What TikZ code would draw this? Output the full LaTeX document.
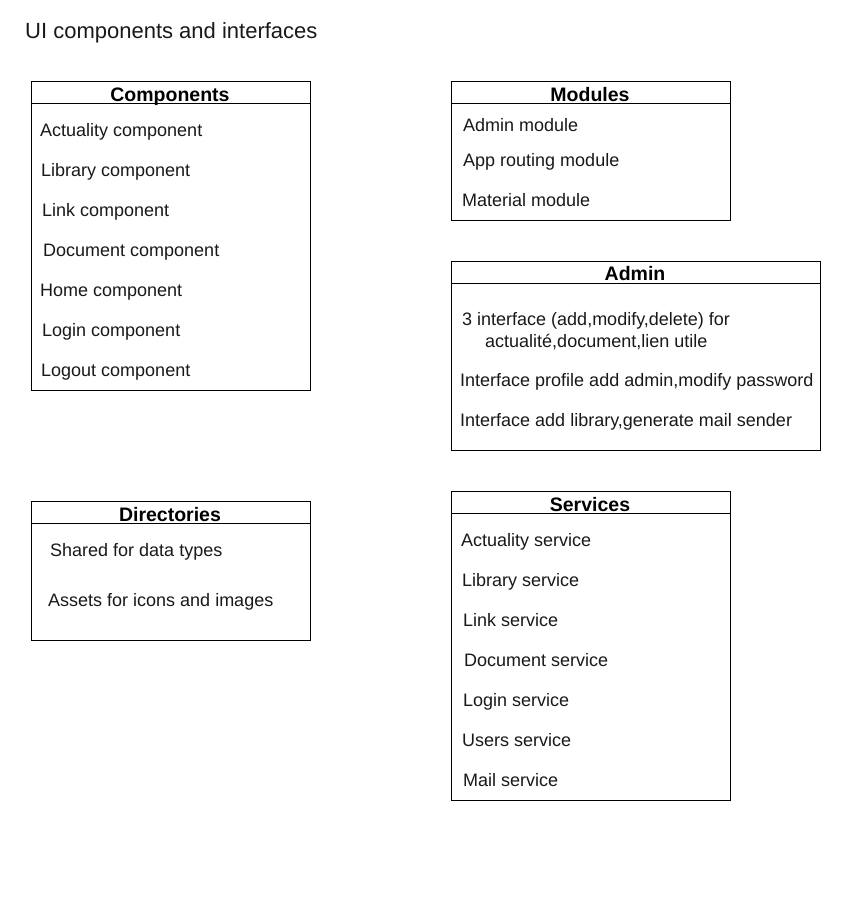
\documentclass[tikz,border=0pt]{standalone}
\usepackage{fontspec}
\setmainfont{Liberation Sans}
\begin{document}
\begin{tikzpicture}[x=1pt,y=-1pt,
  box/.style={draw=black,line width=1pt,fill=white,inner sep=0pt,minimum width=#1,anchor=north west},
  hdr/.style={font=\fontsize{19.5}{22}\selectfont\bfseries,text=black,inner sep=0pt,anchor=base},
  item/.style={font=\fontsize{18}{21}\selectfont,text=black!90,inner sep=0pt,anchor=base west},
  ttl/.style={font=\fontsize{22}{26}\selectfont,text=black!90,inner sep=0pt,anchor=base west}]
\useasboundingbox[fill=white] (0,0) rectangle (852,921);
\node[ttl] (title) at (25,38) {UI components and interfaces};

% Components
\node[box=279pt,minimum height=309pt] (comp) at (31,81) {};
\draw[line width=1pt] ([yshift=-22pt]comp.north west) -- ([yshift=-22pt]comp.north east);
\node[hdr] (comph) at (170,101) {Components};
\node[item] (c-a) at (40,136.5) {Actuality component};
\node[item] (c-b) at (41,176.5) {Library component};
\node[item] (c-c) at (42,216.5) {Link component};
\node[item] (c-d) at (43,256.5) {Document component};
\node[item] (c-e) at (40,296.5) {Home component};
\node[item] (c-f) at (42,336.5) {Login component};
\node[item] (c-g) at (41,376.5) {Logout component};

% Modules
\node[box=279pt,minimum height=139pt] (mod) at (451,81) {};
\draw[line width=1pt] ([yshift=-22pt]mod.north west) -- ([yshift=-22pt]mod.north east);
\node[hdr] (modh) at (590,101) {Modules};
\node[item] (m-a) at (463,131.5) {Admin module};
\node[item] (m-b) at (463,166.5) {App routing module};
\node[item] (m-c) at (462,206.5) {Material module};

% Admin
\node[box=369pt,minimum height=189pt] (adm) at (451,261) {};
\draw[line width=1pt] ([yshift=-22pt]adm.north west) -- ([yshift=-22pt]adm.north east);
\node[hdr] (admh) at (635,280) {Admin};
\node[item] (a-a1) at (462,325.5) {3 interface (add,modify,delete) for};
\node[item] (a-a2) at (485,347.5) {actualité,document,lien utile};
\node[item] (a-b) at (460,386.5) {Interface profile add admin,modify password};
\node[item] (a-c) at (460,426.5) {Interface add library,generate mail sender};

% Directories
\node[box=279pt,minimum height=139pt] (dir) at (31,501) {};
\draw[line width=1pt] ([yshift=-22pt]dir.north west) -- ([yshift=-22pt]dir.north east);
\node[hdr] (dirh) at (170,521) {Directories};
\node[item] (d-a) at (50,556.5) {Shared for data types};
\node[item] (d-b) at (48,606.5) {Assets for icons and images};

% Services
\node[box=279pt,minimum height=309pt] (srv) at (451,491) {};
\draw[line width=1pt] ([yshift=-22pt]srv.north west) -- ([yshift=-22pt]srv.north east);
\node[hdr] (srvh) at (590,511) {Services};
\node[item] (s-a) at (461,546.5) {Actuality service};
\node[item] (s-b) at (462,586.5) {Library service};
\node[item] (s-c) at (463,626.5) {Link service};
\node[item] (s-d) at (464,666.5) {Document service};
\node[item] (s-e) at (463,706.5) {Login service};
\node[item] (s-f) at (462,746.5) {Users service};
\node[item] (s-g) at (463,786.5) {Mail service};
\end{tikzpicture}
\end{document}
